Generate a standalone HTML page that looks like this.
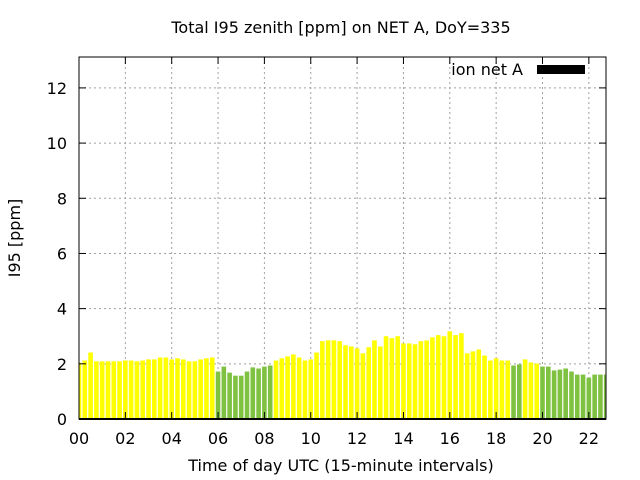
<!DOCTYPE html>
<html><head><meta charset="utf-8"><style>
html,body{margin:0;padding:0;background:#fff;}
svg{display:block;font-family:"DejaVu Sans","Liberation Sans",sans-serif;}
</style></head><body>
<svg id="chart" width="640" height="480" viewBox="0 0 640 480">
<text x="341" y="33" text-anchor="middle" font-size="16" fill="#000">Total I95 zenith [ppm] on NET A, DoY=335</text>
<text x="341" y="471" text-anchor="middle" font-size="16" fill="#000">Time of day UTC (15-minute intervals)</text>
<text x="20" y="238" text-anchor="middle" font-size="16" fill="#000" transform="rotate(-90 20 238)">I95 [ppm]</text>
<g id="grid"></g><g id="bars"></g><g id="axes"></g>
<g>
<text x="523" y="75" text-anchor="end" font-size="16" fill="#000">ion net A</text>
<rect x="537" y="65" width="48" height="9" fill="#000"></rect>
</g>
</svg>
<script>
const values = [2.04,2.12,2.41,2.09,2.09,2.09,2.09,2.09,2.12,2.12,2.09,2.12,2.16,2.16,2.23,2.23,2.16,2.2,2.16,2.09,2.09,2.16,2.2,2.23,
1.72,1.9,1.68,1.57,1.57,1.72,1.87,1.83,1.9,1.94,
2.12,2.2,2.27,2.34,2.23,2.12,2.16,2.41,2.82,2.85,2.85,2.82,2.67,2.63,2.56,2.38,2.6,2.85,2.63,3.0,2.93,3.0,2.74,2.74,2.71,2.82,2.85,
2.96,3.04,3.0,3.18,3.04,3.11,2.38,2.45,2.52,2.3,2.12,2.2,2.12,2.12,
1.94,1.98,2.16,2.05,2.01,1.9,1.9,1.76,1.79,1.83,1.72,1.61,1.61,1.5,1.61,1.61,1.61];
const colorFlags = [0,0,0,0,0,0,0,0,0,0,0,0,0,0,0,0,0,0,0,0,0,0,0,0,
1,1,1,1,1,1,1,1,1,1,
0,0,0,0,0,0,0,0,0,0,0,0,0,0,0,0,0,0,0,0,0,0,0,0,0,0,0,
0,0,0,0,0,0,0,0,0,0,0,0,0,0,
1,1,0,0,0,1,1,1,1,1,1,1,1,1,1,1,1];
const yTicks = [0,2,4,6,8,10,12];
const xTicks = [0,2,4,6,8,10,12,14,16,18,20,22];
const xTickLabels = ["00","02","04","06","08","10","12","14","16","18","20","22"];
const L=79,R=606,T=57,B=419, XMAX=22.74, YMAX=13.12;
const NS="http://www.w3.org/2000/svg";
const xs=h=>L+h/XMAX*(R-L);
const ys=v=>B-v/YMAX*(B-T);
function mk(tag,attrs,parent){const e=document.createElementNS(NS,tag);for(const k in attrs)e.setAttribute(k,attrs[k]);parent.appendChild(e);return e;}
const grid=document.getElementById('grid'),bars=document.getElementById('bars'),axes=document.getElementById('axes');
yTicks.forEach((v,i)=>{
 if(v>0){const g=mk('line',{x1:L,x2:R,y1:ys(v),y2:ys(v),stroke:'#a0a0a0','stroke-dasharray':'2,3','stroke-width':1},grid);
 
 }
 const t=mk('line',{x1:L,x2:L+7,y1:ys(v),y2:ys(v),stroke:'#000'},axes);
 
 
 const t2=mk('line',{x1:R-7,x2:R,y1:ys(v),y2:ys(v),stroke:'#000'},axes);
 
 
 const lb=mk('text',{x:L-12,y:ys(v)+6,'text-anchor':'end','font-size':16},axes);lb.textContent=v;
 
 
});
xTicks.forEach((h,i)=>{
 if(h>0){const g=mk('line',{x1:xs(h),x2:xs(h),y1:T,y2:B,stroke:'#a0a0a0','stroke-dasharray':'2,3','stroke-width':1},grid);
 
 }
 const t=mk('line',{x1:xs(h),x2:xs(h),y1:B,y2:B-7,stroke:'#000'},axes);
 
 
 const t2=mk('line',{x1:xs(h),x2:xs(h),y1:T,y2:T+7,stroke:'#000'},axes);
 
 
 const lb=mk('text',{x:xs(h),y:B+25,'text-anchor':'middle','font-size':16},axes);lb.textContent=xTickLabels[i];
 
 
});
const bw=4.6;
values.forEach((v,i)=>{
 const h=i*0.25;let x0=xs(h)-bw/2,x1=xs(h)+bw/2;
 x0=Math.max(x0,L);x1=Math.min(x1,R);
 const r=mk('rect',{x:x0,y:ys(v),width:x1-x0,height:B-ys(v),fill:colorFlags[i]?'#7fc241':'#ffff00'},bars);
 
 
});
const fr=mk('rect',{x:L,y:T,width:R-L,height:B-T,fill:'none',stroke:'#000','stroke-width':1},axes);


const bl=mk('line',{x1:L,x2:R,y1:B,y2:B,stroke:'#000','stroke-width':2},axes);


</script>
</body></html>
